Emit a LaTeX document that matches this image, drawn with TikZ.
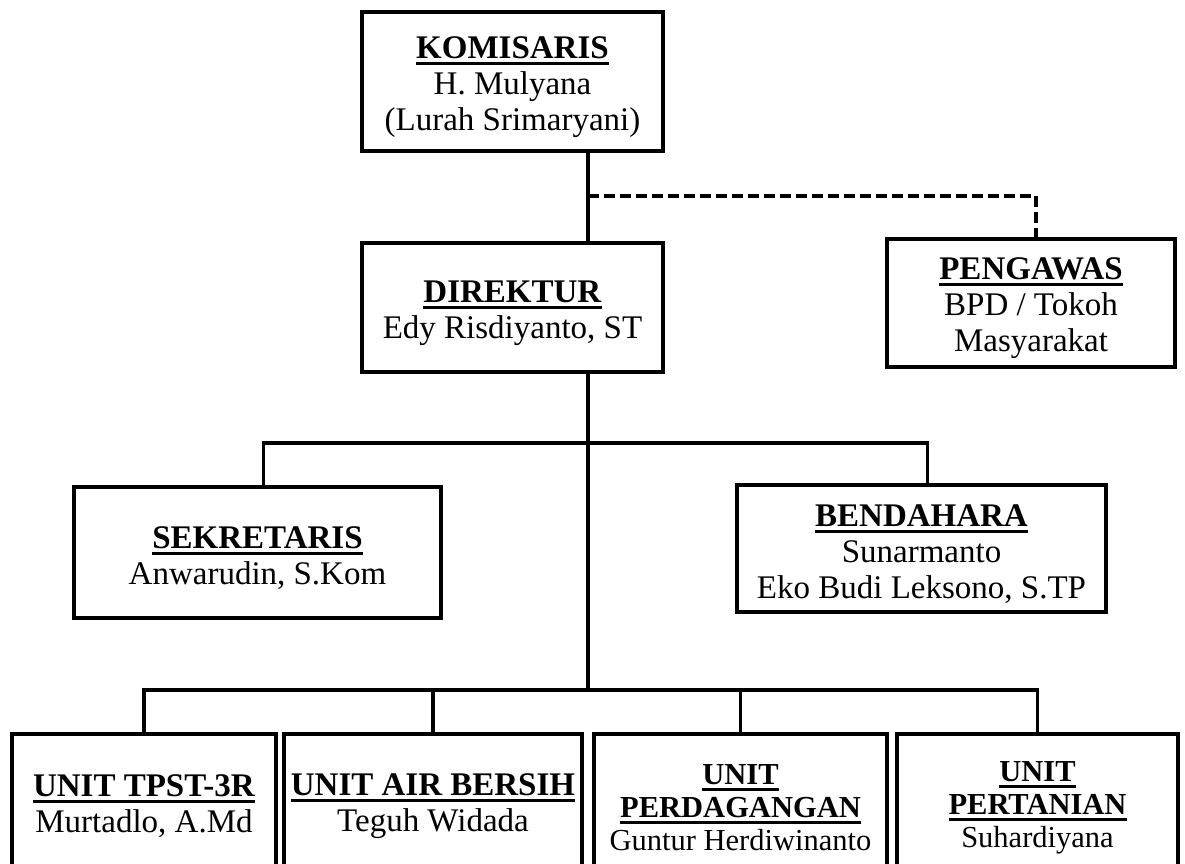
\documentclass[tikz,border=0pt]{standalone}
\usepackage{fontspec}
\setmainfont{Liberation Serif}
\usetikzlibrary{positioning}
\newcommand{\uhead}[1]{\leavevmode\setbox0\hbox{\textbf{#1}}\rlap{\rule[-6.5pt]{\wd0}{3pt}}\box0}
\newcommand{\lift}{\rule{0pt}{33pt}}

\begin{document}
\begin{tikzpicture}[x=1pt, y=-1pt,
          post/.style={draw, line width=4pt, fill=white, align=center, inner sep=0pt, font=\fontsize{33}{36}\selectfont},
          unit/.style={post, minimum height=134pt},
          small/.style={font=\fontsize{30.5}{33}\selectfont},
          tie/.style={line width=3.3pt},
          watch/.style={tie, dash pattern=on 11pt off 5pt}]
        \useasboundingbox (0,0) rectangle (1185,863);
        \coordinate (trunk) at (588,0);
        \coordinate (watchbar) at (0,196);
        \coordinate (staffbar) at (0,443);
        \coordinate (bus) at (0,690);
        \node[post, minimum width=301pt, minimum height=139pt] (kom) at (512.5,81.5) {\lift\uhead{KOMISARIS}\\ H. Mulyana\\ (Lurah Srimaryani)};
        \node[post, minimum width=301pt, minimum height=129pt] (dir) at (512.5,307.5) {\lift\uhead{DIREKTUR}\\ Edy Risdiyanto, ST};
        \node[post, minimum width=288pt, minimum height=128pt] (pgw) at (1031,303) {\lift\uhead{PENGAWAS}\\ BPD / Tokoh\\ Masyarakat};
        \node[post, minimum width=367pt, minimum height=131pt] (sek) at (257.5,552.5) {\lift\uhead{SEKRETARIS}\\ Anwarudin, S.Kom};
        \node[post, minimum width=369pt, minimum height=127pt] (bdh) at (921.5,548.5) {\lift\uhead{BENDAHARA}\\ Sunarmanto\\ Eko Budi Leksono, S.TP};
        \node[unit, minimum width=264pt] (u1) at (144,801) {\lift\uhead{UNIT TPST-3R}\\ Murtadlo, A.Md};
        \node[unit, minimum width=298pt] (u2) at (433,801) {\lift\uhead{UNIT AIR BERSIH}\\ Teguh Widada};
        \node[unit, small, minimum width=293pt] (u3) at (740.5,801) {\lift\uhead{UNIT}\\ \uhead{PERDAGANGAN}\\ Guntur Herdiwinanto};
        \node[unit, small, minimum width=281pt] (u4) at (1037.5,801) {\lift\uhead{UNIT}\\ \uhead{PERTANIAN}\\ Suhardiyana};
        \draw[tie] (kom.south -| trunk) -- (dir.north -| trunk);
        \draw[watch] (watchbar -| trunk) -| ([xshift=5pt]pgw.north);
        \draw[tie] (dir.south -| trunk) -- (bus -| trunk);
        \draw[tie] ([xshift=6pt]sek.north) |- ([xshift=6pt]bdh.north |- staffbar) -- ([xshift=6pt]bdh.north);
        \draw[tie] (u1.north) |- (u4.north |- bus) -- (u4.north);
        \foreach \u in {u2,u3} {
          \draw[tie] (\u.north) -- (bus -| \u.north);
        }
      \end{tikzpicture}
\end{document}
